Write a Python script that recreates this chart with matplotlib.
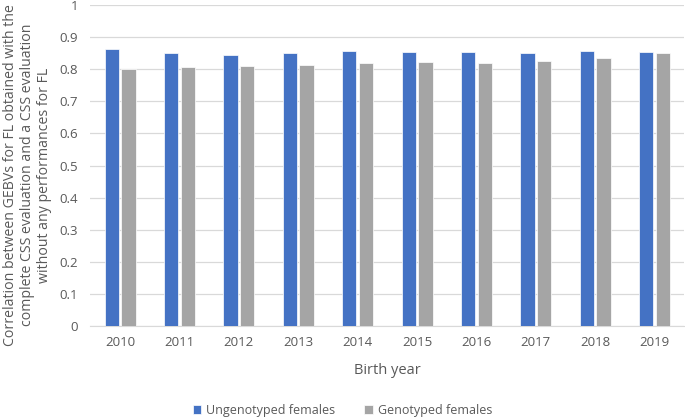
import matplotlib.pyplot as plt
import numpy as np

years = ['2010', '2011', '2012', '2013', '2014', '2015', '2016', '2017', '2018', '2019']
ungenotyped = [0.864, 0.851, 0.844, 0.851, 0.856, 0.853, 0.853, 0.850, 0.856, 0.855]
genotyped = [0.800, 0.806, 0.809, 0.812, 0.818, 0.823, 0.818, 0.827, 0.835, 0.852]

plt.rcParams['font.family'] = ['Open Sans', 'DejaVu Sans']
txt = '#595959'

fig = plt.figure(figsize=(6.85, 4.18), dpi=100)
ax = fig.add_axes([0.132, 0.22, 0.867, 0.768])

x = np.arange(len(years))
w = 0.24
ax.bar(x - 0.14, ungenotyped, w, color='#4472C4', edgecolor='white', linewidth=0.5,
       label='Ungenotyped females', zorder=3)
ax.bar(x + 0.14, genotyped, w, color='#A5A5A5', edgecolor='white', linewidth=0.5,
       label='Genotyped females', zorder=3)

ax.set_xlim(-0.5, len(years) - 0.5)
ax.set_ylim(0, 1)
ax.set_yticks(np.arange(0, 1.01, 0.1))
ax.set_yticklabels(['0', '0.1', '0.2', '0.3', '0.4', '0.5', '0.6', '0.7', '0.8', '0.9', '1'])
ax.set_xticks(x)
ax.set_xticklabels(years)
ax.grid(axis='y', color='#d9d9d9', linewidth=0.9, zorder=0)
for s in ['top', 'right', 'left']:
    ax.spines[s].set_visible(False)
ax.spines['bottom'].set_color('#d9d9d9')
ax.tick_params(length=0, colors=txt, labelsize=9.5)
ax.tick_params(axis='y', pad=9)
ax.tick_params(axis='x', pad=7)

ax.set_xlabel('Birth year', color=txt, fontsize=10.5, labelpad=10)
# y label placed by hand, it sits lower than the axes centre in the original
fig.text(0.040, 0.581, 'Correlation between GEBVs for FL obtained with the\n'
         'complete CSS evaluation and a CSS evaluation\n'
         'without any performances for FL', color=txt, fontsize=10.2,
         rotation=90, ha='center', va='center', multialignment='center',
         linespacing=1.2)

fig.legend(loc='lower center', bbox_to_anchor=(0.5, -0.025), ncol=2, frameon=False,
           fontsize=9, labelcolor=txt, handlelength=0.7, handleheight=0.7,
           columnspacing=2.3, handletextpad=0.4)

fig.savefig('out.png', dpi=100)
